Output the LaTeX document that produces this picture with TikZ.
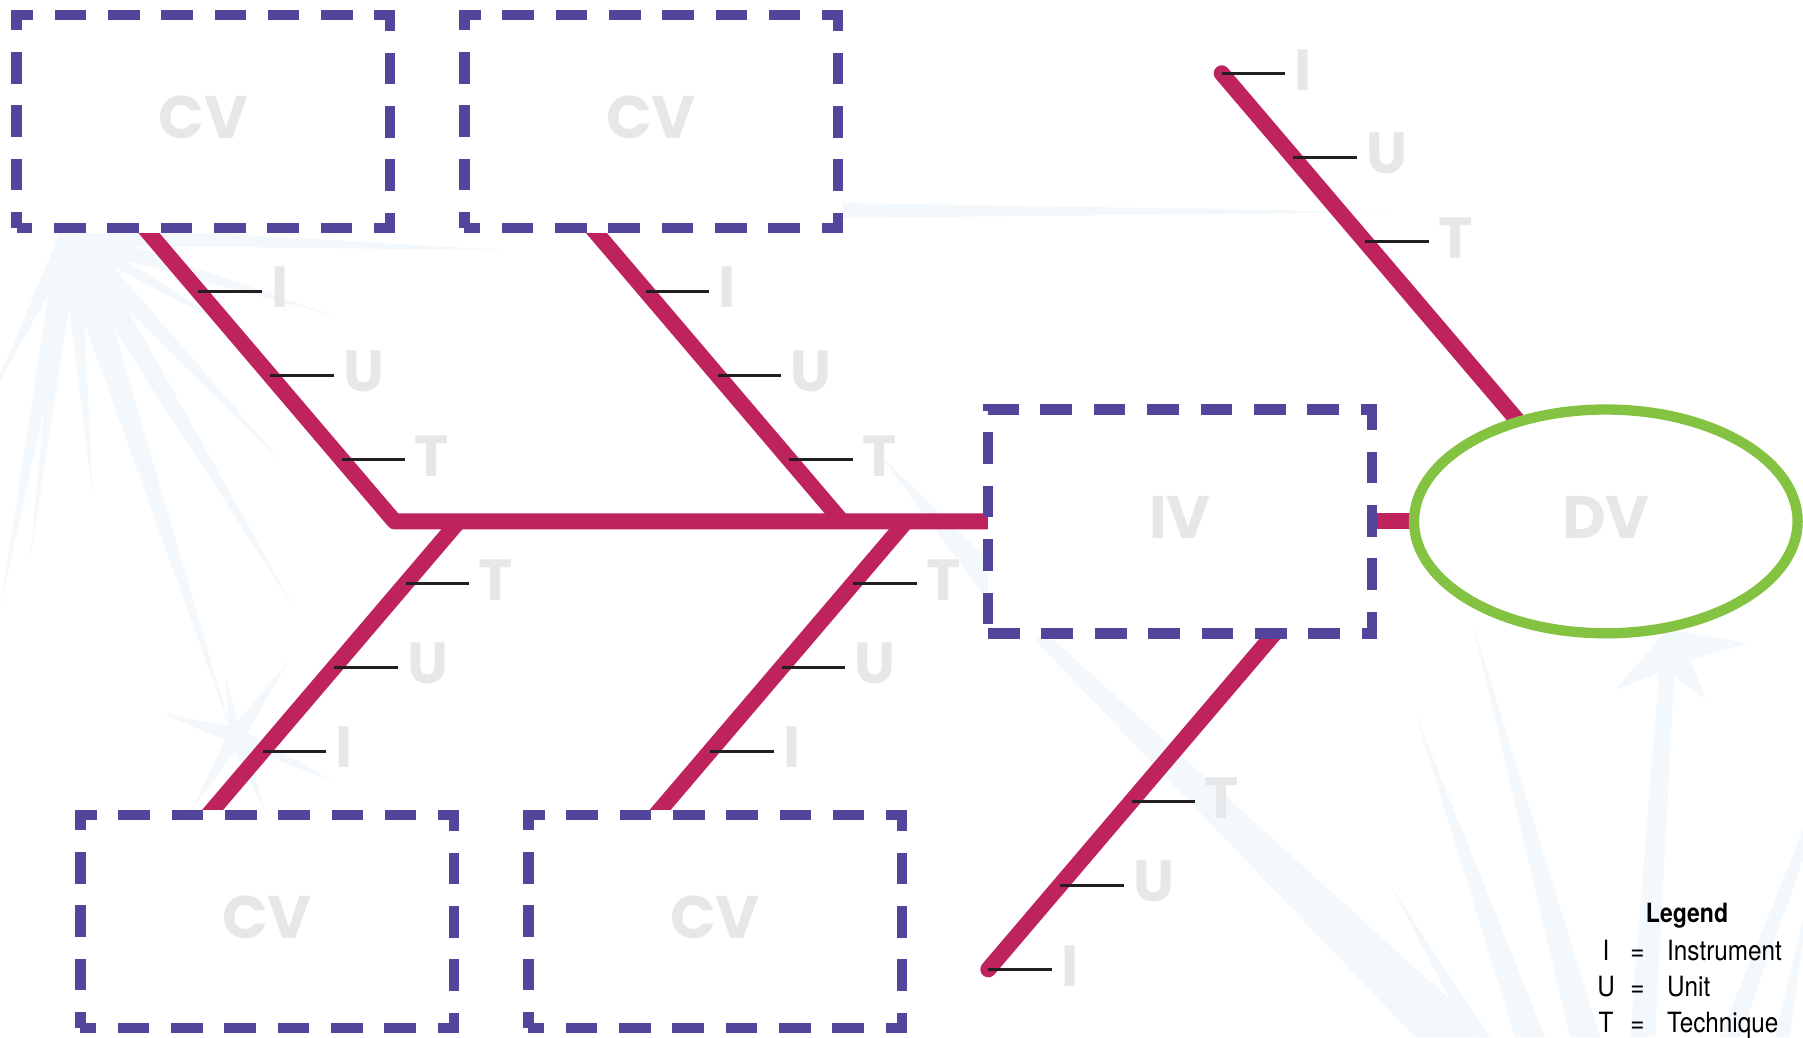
\documentclass[tikz,border=0pt]{standalone}
\usepackage{fontspec}
\usetikzlibrary{shapes.geometric,calc}
\newfontfamily\pop{Poppins}
\newfontfamily\legfont[FakeStretch=0.87]{TeX Gyre Heros}
\definecolor{fpurple}{RGB}{82,69,155}
\definecolor{fmag}{RGB}{191,35,94}
\definecolor{fgreen}{RGB}{132,195,66}
\definecolor{fgray}{RGB}{230,231,232}
\definecolor{ftick}{RGB}{35,31,32}
\definecolor{rayc}{RGB}{243,248,252}
\pgfdeclarelayer{rays}
\pgfdeclarelayer{bones}
\pgfsetlayers{rays,bones,main}
\newcommand\fbtick[4]{\draw[tickline] (#2,#3) -- ++(63.5,0) node[lbl] (#1) {#4};}
\begin{document}
\begin{tikzpicture}[x=1pt,y=-1pt,
  bone/.style={draw=fmag,line width=16pt},
  tickline/.style={draw=ftick,line width=3pt},
  lbl/.style={text=fgray,font=\pop\bfseries\fontsize{58}{60}\selectfont,inner sep=0pt,anchor=west,xshift=8pt,yshift=3.6pt},
  big/.style={text=fgray,font=\pop\bfseries\fontsize{60}{62}\selectfont,inner sep=0pt},
  cvbox/.style={rectangle,draw=fpurple,line width=10.5pt,dash pattern=on 31.6pt off 21.7pt,dash phase=15.8pt,preaction={draw=white,solid},fill=white,minimum width=373.5pt,minimum height=213pt,inner sep=0pt,outer sep=0pt},
  ivbox/.style={rectangle,draw=fpurple,line width=10.5pt,dash pattern=on 31.7pt off 21.7pt,dash phase=0pt,fill=white,minimum width=384pt,minimum height=223.8pt,inner sep=0pt,outer sep=0pt},
  dvell/.style={ellipse,draw=fgreen,line width=10.3pt,fill=white,minimum width=383.6pt,minimum height=223.8pt,inner sep=0pt,outer sep=0pt},
  leg/.style={font=\legfont\fontsize{27.9}{30}\selectfont,inner sep=0pt,text=black}]
\useasboundingbox (0,0) rectangle (1803,1037);
\begin{pgfonlayer}{rays}
\fill[white] (0,0) rectangle (1803,1037);
\coordinate (rc1) at (70,235);
\foreach \a/\L/\w in {100.6/381/12, 97/325/10, 116/180/10, 72/526/16, 59/436/14, 47/309/12, 17/275/10, 2/436/10, 30/200/8, 85/260/10}
  \fill[rayc] ($(rc1)+(\a+90:\w)$) -- ($(rc1)+(\a:\L)$) -- ($(rc1)+(\a-90:\w)$) -- cycle;
\coordinate (rc2) at (236,736);
\foreach \a/\L/\w in {197/78/8, -55/91/8, 25/107/8, 69/80/8, 121/88/8, -100/60/6}
  \fill[rayc] ($(rc2)+(\a+90:\w)$) -- ($(rc2)+(\a:\L)$) -- ($(rc2)+(\a-90:\w)$) -- cycle;
\fill[rayc] (1035,640) -- (1045,632) -- (1491,1037) -- (1415,1037) -- cycle;
\fill[rayc] (1472,621) -- (1600,1037) -- (1570,1037) -- cycle;
\fill[rayc] (1415,713) -- (1545,1037) -- (1515,1037) -- cycle;
\fill[rayc] (1390,885) -- (1490,1037) -- (1470,1037) -- cycle;
\fill[rayc] (1667,630) -- (1748,643) -- (1690,660) -- (1706,700) -- (1667,670) -- (1615,690) -- cycle;
\fill[rayc] (1660,660) -- (1675,660) -- (1655,1037) -- (1630,1037) -- cycle;
\fill[rayc] (1803,830) -- (1803,860) -- (1740,1037) -- (1720,1037) -- cycle;
\fill[rayc] (1803,920) -- (1803,940) -- (1790,1037) -- (1775,1037) -- cycle;
\fill[rayc] (843,203) -- (1390,212) -- (843,218) -- cycle;
\fill[rayc] (880,455) -- (988,560) -- (988,600) -- cycle;
\end{pgfonlayer}
% boxes
\node[cvbox] (cv1) at (203.25,121.5) {};
\node[cvbox] (cv2) at (651,121.5) {};
\node[cvbox] (cv3) at (267,921.5) {};
\node[cvbox] (cv4) at (715,921.5) {};
\node[ivbox] (iv) at (1180,521.4) {};
\node[dvell] (dv) at (1605.8,521.4) {};
\node[big] (cv1t) at ([yshift=4pt]cv1.center) {CV};
\node[big] (cv2t) at ([yshift=4pt]cv2.center) {CV};
\node[big] (cv3t) at ([yshift=4pt]cv3.center) {CV};
\node[big] (cv4t) at ([yshift=4pt]cv4.center) {CV};
\node[big] (ivt) at ([yshift=4pt]iv.center) {IV};
\node[big] (dvt) at ([yshift=4pt]dv.center) {DV};
% bone coordinates
\coordinate (b1s) at (142.1,225);
\coordinate (j1) at (394.5,521.4);
\coordinate (b2s) at (589.6,225);
\coordinate (j2) at (842,521.4);
\coordinate (j3) at (458.6,521.4);
\coordinate (b3e) at (202.3,822);
\coordinate (j4) at (906.1,521.4);
\coordinate (b4e) at (649.8,822);
\coordinate (b5s) at (1281.6,625);
\coordinate (b5e) at (988.3,969.3);
\coordinate (b6s) at (1221.7,73.3);
\coordinate (b6e) at (1524.8,429);
\begin{pgfonlayer}{bones}
\draw[bone,line join=round] (b1s) -- (j1) -- (iv.west);
\draw[bone] (b2s) -- (j2);
\draw[bone] (j3) -- (b3e);
\draw[bone] (j4) -- (b4e);
\draw[bone,line cap=round] (b5s) -- (b5e);
\draw[bone,line cap=round] (b6s) -- (b6e);
\draw[bone] (iv.east) -- (dv.center);
\end{pgfonlayer}
% ticks
\fbtick{a1}{198.4}{291}{I}
\fbtick{a2}{270.2}{375.3}{U}
\fbtick{a3}{341.8}{459.3}{T}
\fbtick{b1}{645.9}{291}{I}
\fbtick{b2}{717.7}{375.3}{U}
\fbtick{b3}{789.3}{459.3}{T}
\fbtick{c1}{405.7}{583.3}{T}
\fbtick{c2}{334.1}{667.3}{U}
\fbtick{c3}{262.8}{751}{I}
\fbtick{d1}{853.2}{583.3}{T}
\fbtick{d2}{781.6}{667.3}{U}
\fbtick{d3}{710.3}{751}{I}
\fbtick{e1}{1131.6}{801.7}{T}
\fbtick{e2}{1060}{885.3}{U}
\fbtick{e3}{988.3}{969.3}{I}
\fbtick{f1}{1221.7}{73.3}{I}
\fbtick{f2}{1293.3}{157.3}{U}
\fbtick{f3}{1365.2}{241.3}{T}
% legend
\node[leg,font=\legfont\bfseries\fontsize{26.5}{28}\selectfont,anchor=base] (legt) at (1687,922) {Legend};
\node[leg,anchor=base] (l1a) at (1606,960) {I};
\node[leg,anchor=base] (l1b) at (1637.5,960) {=};
\node[leg,anchor=base west] (l1c) at (1667,960) {Instrument};
\node[leg,anchor=base] (l2a) at (1606,996) {U};
\node[leg,anchor=base] (l2b) at (1637.5,996) {=};
\node[leg,anchor=base west] (l2c) at (1667,996) {Unit};
\node[leg,anchor=base] (l3a) at (1606,1032) {T};
\node[leg,anchor=base] (l3b) at (1637.5,1032) {=};
\node[leg,anchor=base west] (l3c) at (1667,1032) {Technique};
\end{tikzpicture}
\end{document}
